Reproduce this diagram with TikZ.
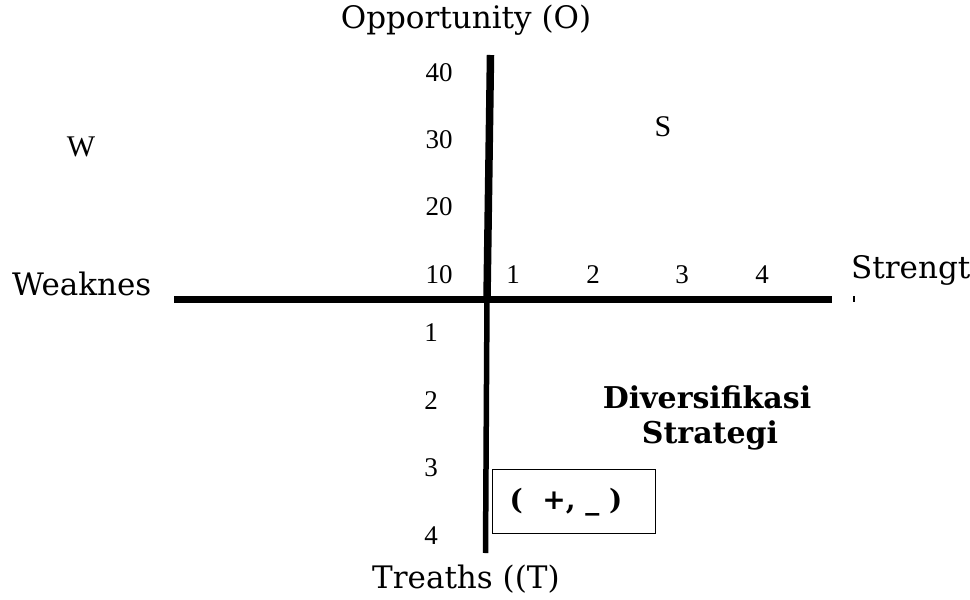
\documentclass[tikz,border=0pt]{standalone}
\usepackage{fontspec}
\newfontfamily\labfont{DejaVu Serif}
\newfontfamily\numfont{Liberation Serif}
\begin{document}
\begin{tikzpicture}[x=1pt,y=-1pt,
  lab/.style={inner sep=0pt,font=\labfont\fontsize{31}{36}\selectfont},
  num/.style={inner sep=0pt,font=\numfont\fontsize{27}{30}\selectfont},
  letter/.style={inner sep=0pt,font=\numfont\fontsize{30}{30}\selectfont},
  strat/.style={inner sep=0pt,align=center,font=\labfont\bfseries\fontsize{30}{35}\selectfont},
  sign/.style={inner sep=0pt,font=\labfont\bfseries\fontsize{28}{30}\selectfont},
  signbox/.style={draw,line width=1pt,minimum width=163pt,minimum height=64pt,inner sep=0pt}]
\useasboundingbox (0,0) rectangle (970,600);
% axes
\coordinate (otop) at (490.5,55);
\coordinate (cross) at (487,299);
\coordinate (tbot) at (485.5,553);
\coordinate (wl) at (174,299);
\coordinate (sr) at (832,299);
\draw[line width=7pt] (wl) -- (sr);
\draw[line width=7.5pt] (otop) -- (cross);
\draw[line width=5.5pt] (cross) -- (tbot);
% axis titles
\node[lab,anchor=base] (opp) at (466,28) {Opportunity (O)};
\node[lab,anchor=base west] (weak) at (12,295) {Weaknes};
\node[lab,anchor=base west] (str) at (851,278) {Strengt};
\coordinate (hA) at (854,296);
\coordinate (hB) at (854,302);
\draw[line width=2pt] (hA) -- (hB);
\node[lab,anchor=base west] (thr) at (372,588) {Treaths ((T)};
% quadrant letters
\node[letter] (qw) at (81,147) {W};
\node[letter] (qs) at (663,127) {S};
% vertical scale
\node[num] (v40) at (439,73) {40};
\node[num] (v30) at (439,140) {30};
\node[num] (v20) at (439,207) {20};
\node[num] (v10) at (439,275) {10};
\node[num] (v1) at (431,333) {1};
\node[num] (v2) at (431,401) {2};
\node[num] (v3) at (431,468) {3};
\node[num] (v4) at (431,536) {4};
% horizontal scale
\node[num] (h1) at (513,275) {1};
\node[num] (h2) at (593,275) {2};
\node[num] (h3) at (682,275) {3};
\node[num] (h4) at (762,275) {4};
% strategy label and sign box
\node[strat,anchor=base] (div) at (707,408) {Diversifikasi};
\node[strat,anchor=base] (stg) at (710,443) {Strategi};
\node[signbox] (box) at (573.5,501) {};
\node[sign] (signtext) at (566,502) {(\ \ +,\ \_\ )};
\end{tikzpicture}
\end{document}
